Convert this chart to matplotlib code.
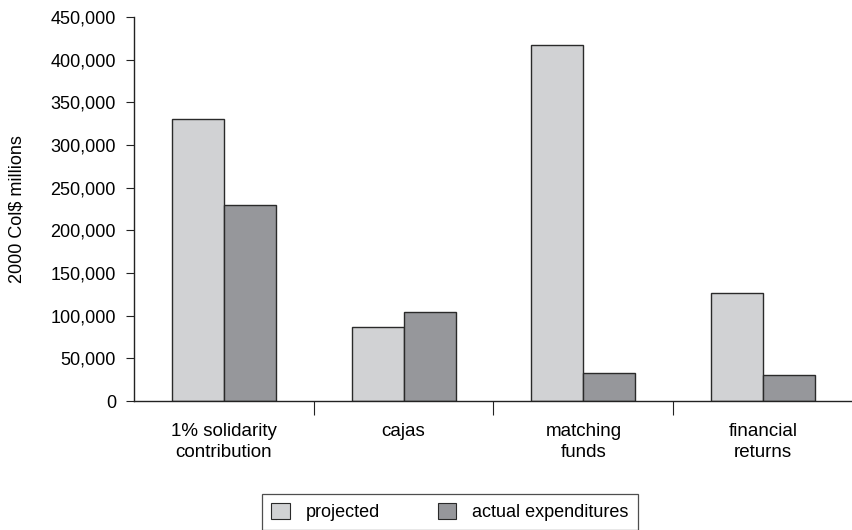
import matplotlib
matplotlib.use("Agg")
import matplotlib.pyplot as plt
import numpy as np
from matplotlib.patches import Patch
from matplotlib.ticker import FuncFormatter

categories = ["1% solidarity\ncontribution", "cajas", "matching\nfunds", "financial\nreturns"]
projected = [330000, 87000, 417000, 126000]
actual = [230000, 104000, 33000, 30000]
series_names = ["projected", "actual expenditures"]
yticks = [0, 50000, 100000, 150000, 200000, 250000, 300000, 350000, 400000, 450000]

plt.rcParams['font.family'] = ['Liberation Sans Narrow', 'Liberation Sans', 'DejaVu Sans']
plt.rcParams['font.size'] = 13

fig = plt.figure(figsize=(8.53, 5.30), dpi=100)
ax = fig.add_axes([134/853, 1 - 401/530, (853 - 134)/853, (401 - 17)/530])

x = np.arange(len(categories))
w = 0.289
c_proj = "#d1d2d4"
c_act = "#96979b"
edge = "#2a2a2a"
ax.bar(x - w/2, projected, width=w, color=c_proj, edgecolor=edge, linewidth=1.0)
ax.bar(x + w/2, actual, width=w, color=c_act, edgecolor=edge, linewidth=1.0)

ax.set_xlim(-0.5, len(categories) - 0.5)
ax.set_ylim(0, 450000)
ax.set_yticks(yticks)
ax.yaxis.set_major_formatter(FuncFormatter(lambda v, p: f"{int(v):,}"))
ax.tick_params(axis='y', direction='out', length=6, width=0.8, color='#222', pad=7, labelsize=13)

ax.set_xticks(x)
ax.set_xticklabels(categories, linespacing=1.3)
ax.tick_params(axis='x', which='major', length=0, pad=16, labelsize=13.5)
ax.set_xticks(np.arange(0.5, len(categories) - 0.5, 1.0), minor=True)
ax.tick_params(axis='x', which='minor', direction='out', length=10, width=0.8, color='#222')

for s in ['top', 'right']:
    ax.spines[s].set_visible(False)
for s in ['left', 'bottom']:
    ax.spines[s].set_linewidth(1.0)
    ax.spines[s].set_color('#222')

ax.set_ylabel("2000 Col$ millions", fontsize=13, labelpad=18)

handles = [Patch(facecolor=c_proj, edgecolor=edge, linewidth=0.8),
           Patch(facecolor=c_act, edgecolor=edge, linewidth=0.8)]
leg = fig.legend(handles, series_names, loc='center', bbox_to_anchor=(450/853, 1 - 512/530),
                 ncol=2, frameon=True, fancybox=False, edgecolor='#222', fontsize=13,
                 handlelength=1.0, handleheight=1.0, columnspacing=3.2, handletextpad=0.9,
                 borderpad=0.5)
leg.get_frame().set_linewidth(0.9)

fig.savefig("out.png", dpi=100)
